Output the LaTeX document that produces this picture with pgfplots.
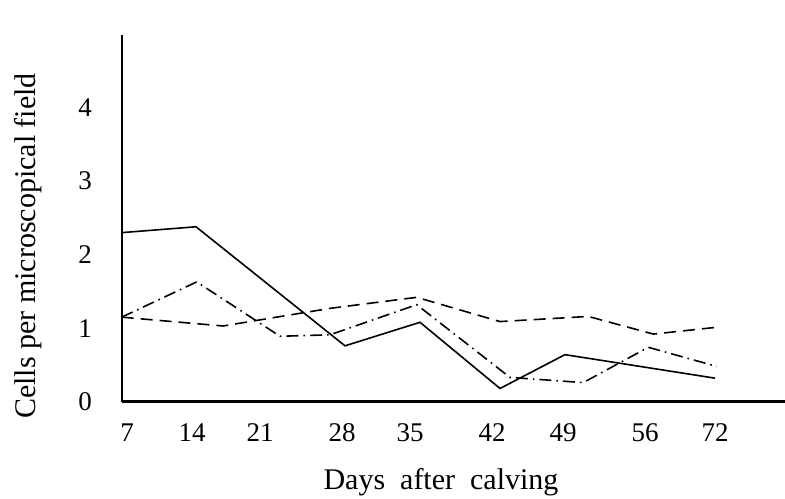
\documentclass[border=0pt]{standalone}
\usepackage{pgfplots}
\pgfplotsset{compat=1.18}
\usepackage{fontspec}
\setmainfont{Liberation Serif}
\begin{document}
\begin{tikzpicture}
\begin{axis}[
  x=0.5pt, y=36.75pt,
  xmin=121.7, xmax=785, ymin=0, ymax=4.99,
  axis x line=bottom, axis y line=left,
  axis line style={-},
  x axis line style={-, line width=1.4pt},
  y axis line style={-, line width=1pt},
  xtick={127,192,260,342,410,492,563,645,715},
  xticklabels={7,14,21,28,35,42,49,56,72},
  ytick={0,1,2,3,4},
  major tick length=0pt,
  tick style={draw=none},
  /pgf/number format/assume math mode=true,
  xticklabel style={anchor=center, yshift=-15.6pt, font=\fontsize{13.5}{15}\selectfont},
  yticklabel style={anchor=center, xshift=-18.3pt, font=\fontsize{13.5}{15}\selectfont},
  xlabel={Days\hspace{0.5em}after\hspace{0.5em}calving},
  ylabel={Cells per microscopical field},
  xlabel style={at={(rel axis cs:0.4814,-0.219)}, anchor=center, font=\fontsize{15}{18}\selectfont},
  ylabel style={at={(rel axis cs:-0.1413,0.4245)}, anchor=center, font=\fontsize{15}{18}\selectfont},
  clip=false,
]
\addplot[black, line width=0.8pt, no marks, sharp plot] coordinates {
 (121.7,2.30) (196,2.38) (345,0.76) (420,1.08) (500,0.18) (565,0.64) (715,0.32)};
\addplot[black, line width=0.8pt, no marks, sharp plot, dash pattern=on 6pt off 2.5pt on 0.8pt off 2.5pt] coordinates {
 (121.7,1.15) (196.7,1.63) (280,0.89) (330,0.91) (416.7,1.32) (510,0.33) (583.3,0.26) (648.3,0.74) (716.7,0.48)};
\addplot[black, line width=0.8pt, no marks, sharp plot, dash pattern=on 6pt off 3.5pt] coordinates {
 (121.7,1.15) (223,1.03) (330,1.27) (416.7,1.42) (500,1.09) (588.3,1.16) (653.3,0.92) (715,1.01)};
\coordinate (bl) at (axis cs:0,-1.3238);
\coordinate (tr) at (axis cs:785,5.4653);
\end{axis}
\pgfresetboundingbox
\path[use as bounding box] (bl) rectangle (tr);
\end{tikzpicture}
\end{document}
